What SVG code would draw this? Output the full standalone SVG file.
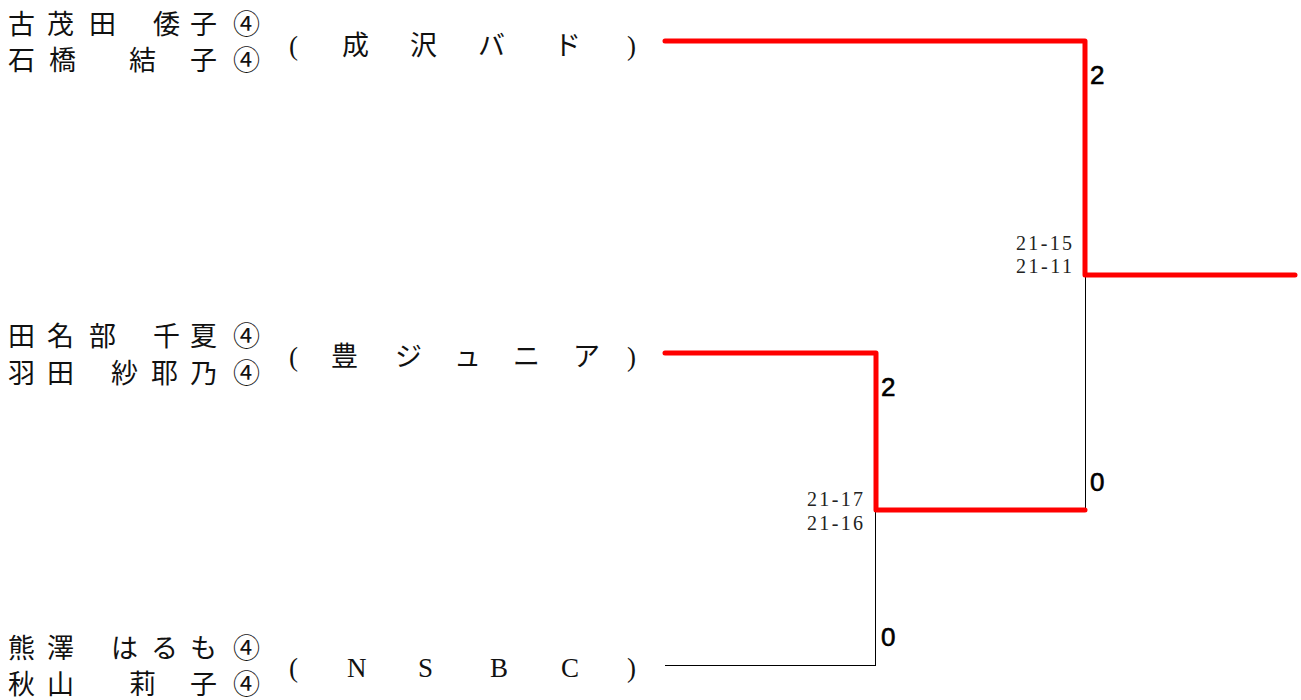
<svg xmlns="http://www.w3.org/2000/svg" width="1301" height="700" viewBox="0 0 1301 700">
<style>
.nm{font-family:"Noto Sans CJK JP","Noto Sans CJK SC",sans-serif;font-size:27px;fill:#111}
.cl{font-family:"Liberation Serif","Noto Sans CJK JP",serif;font-size:27px;fill:#111}
.sc{font-family:"Liberation Serif",serif;font-size:20px;fill:#222}
.gw{font-family:"Liberation Sans","DejaVu Sans",sans-serif;font-size:26px;fill:#000;stroke:#000;stroke-width:0.6}
.win{stroke:#f00;stroke-width:5;fill:none;stroke-linecap:round;stroke-linejoin:round}
.los{stroke:#000;stroke-width:1;fill:none;shape-rendering:crispEdges}
</style>
<rect width="1301" height="700" fill="#fff"/>
<g id="team1">
<text class="nm" y="34"><tspan x="8">古</tspan><tspan x="47">茂</tspan><tspan x="89">田</tspan><tspan x="153">倭</tspan><tspan x="190">子</tspan><tspan x="233">④</tspan></text>
<text class="nm" y="70"><tspan x="8">石</tspan><tspan x="49">橋</tspan><tspan x="129">結</tspan><tspan x="190">子</tspan><tspan x="233">④</tspan></text>
<text class="cl" y="55"><tspan x="289">(</tspan><tspan x="342">成</tspan><tspan x="410">沢</tspan><tspan x="478">バ</tspan><tspan x="554">ド</tspan><tspan x="627">)</tspan></text>
</g>
<g id="team2">
<text class="nm" y="346"><tspan x="8">田</tspan><tspan x="47">名</tspan><tspan x="89">部</tspan><tspan x="153">千</tspan><tspan x="190">夏</tspan><tspan x="233">④</tspan></text>
<text class="nm" y="383"><tspan x="8">羽</tspan><tspan x="47">田</tspan><tspan x="111">紗</tspan><tspan x="151">耶</tspan><tspan x="190">乃</tspan><tspan x="233">④</tspan></text>
<text class="cl" y="366"><tspan x="289">(</tspan><tspan x="331">豊</tspan><tspan x="395">ジ</tspan><tspan x="454">ュ</tspan><tspan x="513">ニ</tspan><tspan x="573">ア</tspan><tspan x="627">)</tspan></text>
</g>
<g id="team3">
<text class="nm" y="658"><tspan x="8">熊</tspan><tspan x="47">澤</tspan><tspan x="111">は</tspan><tspan x="151">る</tspan><tspan x="190">も</tspan><tspan x="233">④</tspan></text>
<text class="nm" y="694"><tspan x="8">秋</tspan><tspan x="47">山</tspan><tspan x="129">莉</tspan><tspan x="190">子</tspan><tspan x="233">④</tspan></text>
<text class="cl" y="677"><tspan x="289">(</tspan><tspan x="347">N</tspan><tspan x="418">S</tspan><tspan x="490">B</tspan><tspan x="561">C</tspan><tspan x="627">)</tspan></text>
</g>
<g id="connectors">
<path class="los" d="M1085.5,275 V510"/>
<path class="los" d="M875.5,510 V665.5 H665"/>
<path class="win" d="M665,41 H1085 V275 H1295"/>
<path class="win" d="M665,353 H876 V510 H1085"/>
</g>
<g id="scores">
<text class="gw" x="1090" y="84">2</text>
<text class="gw" x="881" y="396">2</text>
<text class="gw" x="1090" y="491">0</text>
<text class="gw" x="881" y="646">0</text>
<text class="sc" x="1016" y="250" textLength="56" lengthAdjust="spacing">21-15</text>
<text class="sc" x="1016" y="273" textLength="56" lengthAdjust="spacing">21-11</text>
<text class="sc" x="807" y="506" textLength="56" lengthAdjust="spacing">21-17</text>
<text class="sc" x="807" y="530" textLength="56" lengthAdjust="spacing">21-16</text>
</g>
</svg>
